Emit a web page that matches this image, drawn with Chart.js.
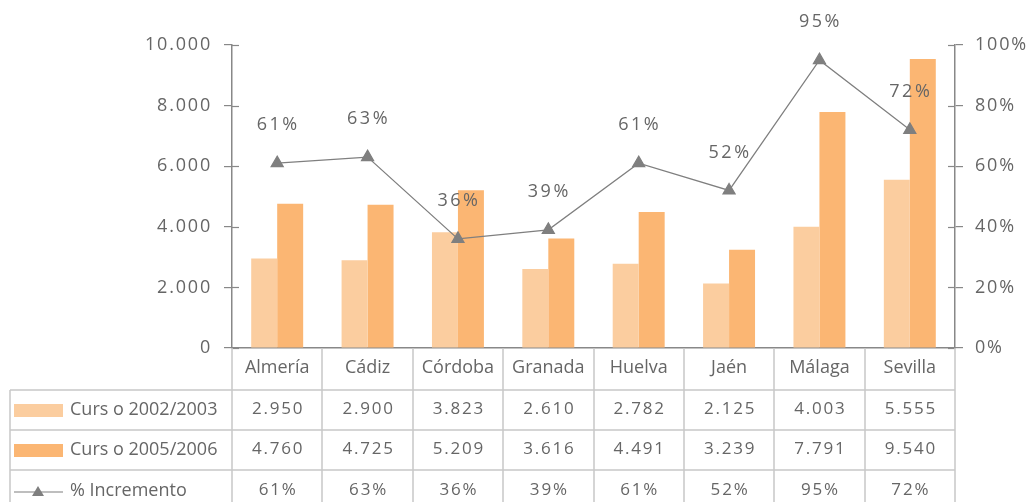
<!DOCTYPE html>
<html>
<head>
<meta charset="utf-8">
<script src="https://cdn.jsdelivr.net/npm/chart.js@4/dist/chart.umd.min.js"></script>
<style>
  body { margin: 0; background: #fff; }
  canvas { display: block; }
</style>
</head>
<body>
<canvas id="chart" width="1032" height="502"></canvas>
<script>
const provincias = ['Almería', 'Cádiz', 'Córdoba', 'Granada', 'Huelva', 'Jaén', 'Málaga', 'Sevilla'];
const curso0203 = [2950, 2900, 3823, 2610, 2782, 2125, 4003, 5555];
const curso0506 = [4760, 4725, 5209, 3616, 4491, 3239, 7791, 9540];
const incremento = [61, 63, 36, 39, 61, 52, 95, 72];
const series = ['Curs o 2002/2003', 'Curs o 2005/2006', '% Incremento'];

const FONT = '"Open Sans", "Noto Sans", sans-serif';
const GRIS = '#888';
const TEXTO = '#666';

// numbers with a dot as thousands separator
function miles(n) {
  return String(n).replace(/\B(?=(\d{3})+(?!\d))/g, '.');
}

// spaced-out digits on the axis labels; the scales inherit the ctx state
const espaciado = {
  id: 'espaciado',
  beforeDraw(chart) { chart.ctx.letterSpacing = '1.8px'; },
  afterDraw(chart) { chart.ctx.letterSpacing = '0px'; }
};

// small tick stubs on the inner side of both value axes
const ticksInternos = {
  id: 'ticksInternos',
  afterDraw(chart) {
    const ctx = chart.ctx;
    ctx.save();
    ctx.strokeStyle = GRIS;
    ctx.lineWidth = 1.2;
    ['y', 'y1'].forEach(id => {
      const s = chart.scales[id];
      const ax = id === 'y' ? s.right : s.left;
      const dir = id === 'y' ? 1 : -1;
      s.ticks.forEach(t => {
        const py = Math.round(s.getPixelForValue(t.value)) + 0.5;
        ctx.beginPath();
        ctx.moveTo(ax, py);
        ctx.lineTo(ax + dir * 7, py);
        ctx.stroke();
      });
    });
    ctx.restore();
  }
};

// percentage labels above the line points
const etiquetas = {
  id: 'etiquetas',
  afterDatasetsDraw(chart) {
    const ctx = chart.ctx;
    const meta = chart.getDatasetMeta(2);
    ctx.save();
    ctx.font = '18px ' + FONT;
    ctx.fillStyle = TEXTO;
    ctx.letterSpacing = '2.5px';
    ctx.textAlign = 'center';
    ctx.textBaseline = 'middle';
    meta.data.forEach((p, i) => {
      ctx.fillText(incremento[i] + '%', p.x + 1, p.y - 38);
    });
    ctx.restore();
  }
};

// data table under the category axis
const tabla = {
  id: 'tabla',
  afterDraw(chart) {
    const ctx = chart.ctx;
    const area = chart.chartArea;
    const xs = chart.scales.x;
    const ancho = (area.right - area.left) / provincias.length;
    const izq = 10;
    const filas = [area.bottom, area.bottom + 42, area.bottom + 82, area.bottom + 122, area.bottom + 164];
    ctx.save();
    ctx.letterSpacing = '0px';
    ctx.strokeStyle = '#c8c8c8';
    ctx.lineWidth = 1.5;
    ctx.beginPath();
    for (let i = 0; i <= provincias.length; i++) {
      const px = Math.round(area.left + i * ancho);
      ctx.moveTo(px, filas[0]);
      ctx.lineTo(px, filas[4]);
    }
    for (let r = 1; r < 4; r++) {
      ctx.moveTo(izq, filas[r]);
      ctx.lineTo(area.right, filas[r]);
    }
    ctx.moveTo(izq, filas[1]);
    ctx.lineTo(izq, filas[4]);
    ctx.stroke();

    ctx.fillStyle = TEXTO;
    ctx.textAlign = 'center';
    ctx.textBaseline = 'middle';
    const centro = r => (filas[r] + filas[r + 1]) / 2 - 1;

    // category names
    ctx.font = '18px ' + FONT;
    provincias.forEach((v, i) => ctx.fillText(v, xs.getPixelForValue(i), centro(0)));

    // values, slightly spaced
    ctx.font = '17px ' + FONT;
    ctx.letterSpacing = '1.8px';
    const filasValores = [curso0203.map(miles), curso0506.map(miles), incremento.map(v => v + '%')];
    filasValores.forEach((vals, r) => {
      vals.forEach((v, i) => ctx.fillText(v, xs.getPixelForValue(i) + 1, centro(r + 1)));
    });

    // series keys in the first column
    const ds = chart.data.datasets;
    ctx.letterSpacing = '0px';
    ctx.font = '18px ' + FONT;
    ctx.textAlign = 'left';
    for (let r = 1; r <= 3; r++) {
      const cy = centro(r) + 2;
      const d = ds[r - 1];
      if (d.type === 'line') {
        ctx.strokeStyle = d.borderColor;
        ctx.lineWidth = 1.2;
        ctx.beginPath();
        ctx.moveTo(14, cy);
        ctx.lineTo(63, cy);
        ctx.stroke();
        ctx.fillStyle = d.pointBackgroundColor;
        ctx.beginPath();
        ctx.moveTo(38, cy - 6);
        ctx.lineTo(44, cy + 4);
        ctx.lineTo(32, cy + 4);
        ctx.closePath();
        ctx.fill();
      } else {
        ctx.fillStyle = d.backgroundColor;
        ctx.fillRect(14, cy - 7, 49, 13);
      }
      ctx.fillStyle = TEXTO;
      ctx.fillText(d.label, 70, cy - 1);
    }
    ctx.restore();
  }
};

new Chart(document.getElementById('chart'), {
  data: {
    labels: provincias,
    datasets: [
      {
        type: 'bar',
        label: series[0],
        data: curso0203,
        backgroundColor: '#fbcd9f',
        yAxisID: 'y',
        order: 2,
        categoryPercentage: 0.575,
        barPercentage: 1
      },
      {
        type: 'bar',
        label: series[1],
        data: curso0506,
        backgroundColor: '#fbb673',
        yAxisID: 'y',
        order: 2,
        categoryPercentage: 0.575,
        barPercentage: 1
      },
      {
        type: 'line',
        label: series[2],
        data: incremento,
        yAxisID: 'y1',
        order: 1,
        borderColor: '#7f7f7f',
        borderWidth: 1.2,
        pointStyle: 'triangle',
        pointRadius: 7,
        pointBackgroundColor: '#7f7f7f',
        pointBorderColor: '#7f7f7f',
        tension: 0
      }
    ]
  },
  options: {
    responsive: false,
    animation: false,
    layout: { padding: { top: 45, left: 0, right: 0, bottom: 0 } },
    plugins: {
      legend: { display: false },
      tooltip: { enabled: false }
    },
    scales: {
      x: {
        ticks: { display: false },
        grid: { display: false },
        border: { display: true, color: GRIS, width: 1.5 },
        afterFit: s => { s.height = 154; }
      },
      y: {
        position: 'left',
        min: 0,
        max: 10000,
        ticks: {
          stepSize: 2000,
          padding: 12,
          color: TEXTO,
          font: { family: FONT, size: 18 },
          callback: v => miles(v)
        },
        grid: { drawOnChartArea: false, tickLength: 8, color: GRIS, lineWidth: 1.2 },
        border: { display: true, color: GRIS, width: 1.5 },
        afterFit: s => { s.width = 232; }
      },
      y1: {
        position: 'right',
        min: 0,
        max: 100,
        ticks: {
          stepSize: 20,
          padding: 12,
          color: TEXTO,
          font: { family: FONT, size: 18 },
          callback: v => v + '%'
        },
        grid: { drawOnChartArea: false, tickLength: 8, color: GRIS, lineWidth: 1.2 },
        border: { display: true, color: GRIS, width: 1.5 },
        afterFit: s => { s.width = 77; }
      }
    }
  },
  plugins: [espaciado, ticksInternos, etiquetas, tabla]
});
</script>
</body>
</html>
